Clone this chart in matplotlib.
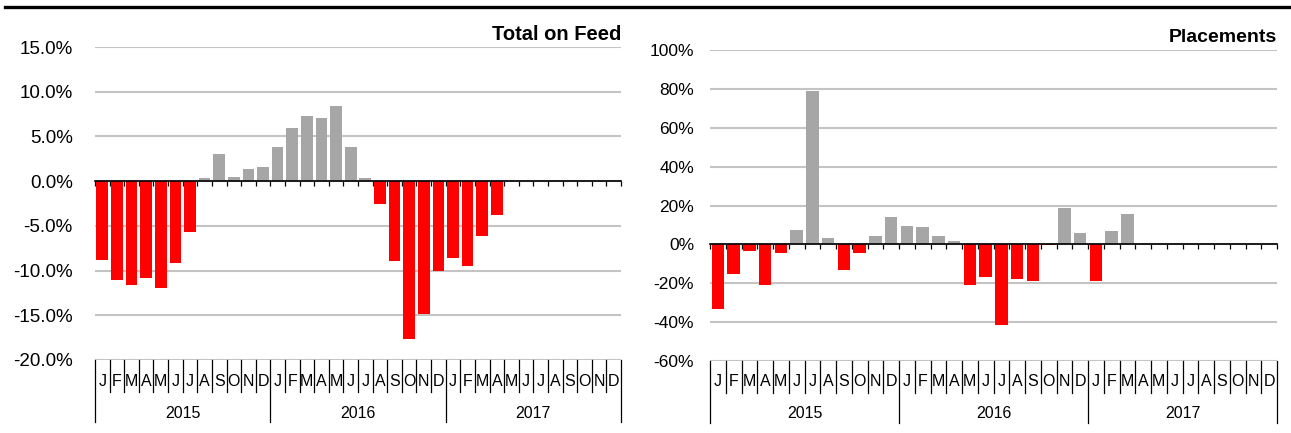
import numpy as np
import matplotlib
matplotlib.use('Agg')
import matplotlib.pyplot as plt
from matplotlib.lines import Line2D
from matplotlib import transforms as mtransforms

plt.rcParams['font.family'] = ['Liberation Sans', 'DejaVu Sans']

# data (year-over-year % change)
months = list('JFMAMJJASOND') * 3
years = ['2015', '2016', '2017']

on_feed = [-8.8, -11.1, -11.6, -10.8, -12.0, -9.1, -5.7, 0.3, 3.0, 0.5, 1.4, 1.6,
           3.8, 5.9, 7.3, 7.1, 8.4, 3.8, 0.3, -2.6, -8.9, -17.7, -14.9, -10.0,
           -8.6, -9.5, -6.1, -3.8]
placements = [-33, -15, -3.5, -21, -4.5, 7.2, 79, 3.5, -13, -4.5, 4.2, 14,
              9.2, 9, 4.5, 1.5, -21, -17, -41.5, -18, -19, -0.5, 18.5, 6,
              -19, 7, 15.5]

W, H = 1291, 433
fig = plt.figure(figsize=(W / 100, H / 100), dpi=100)

# thick rule across the top
fig.add_artist(Line2D([5 / W, 1], [1 - 7 / H] * 2, transform=fig.transFigure,
                      color='black', lw=2.4))


def panel(box, values, ylim, yticks, fmt, title, pad, ysize, tsize):
    x0, y0, x1, y1 = box  # pixel box: left, top, right, bottom
    ax = fig.add_axes([x0 / W, 1 - y1 / H, (x1 - x0) / W, (y1 - y0) / H])
    vals = np.full(36, np.nan)
    vals[:len(values)] = values
    cols = ['#FF0000' if v < 0 else '#A6A6A6' for v in vals]
    ax.bar(np.arange(36) + 0.5, vals, width=0.8, color=cols, zorder=2)

    ax.set_xlim(0, 36)
    ax.set_ylim(*ylim)
    ax.set_yticks(yticks)
    ax.set_yticklabels([fmt.format(t) for t in yticks], fontsize=ysize)
    ax.tick_params(axis='y', length=0, pad=pad)
    ax.yaxis.grid(True, color='#C4C4C4', lw=1.5, zorder=0)
    ax.set_axisbelow(True)

    for s in ['left', 'right', 'top']:
        ax.spines[s].set_visible(False)
    ax.spines['bottom'].set_position(('data', 0))
    ax.spines['bottom'].set_linewidth(1.2)
    ax.spines['bottom'].set_zorder(3)
    ax.set_xticks(np.arange(37))
    ax.tick_params(axis='x', length=3.5, width=0.9, direction='out', labelbottom=False)

    # two-level category axis below the plot
    hpx = y1 - y0
    tr = mtransforms.blended_transform_factory(ax.transData, ax.transAxes)
    for i in range(37):
        drop = 62 if i % 12 == 0 else 32
        ax.add_line(Line2D([i, i], [0, -drop / hpx], transform=tr, color='black',
                           lw=0.9, clip_on=False))
    for i, m in enumerate(months):
        ax.text(i + 0.5, -21 / hpx, m, transform=tr, ha='center', va='center',
                fontsize=11.5)
    for k, yr in enumerate(years):
        ax.text(12 * k + 6, -53 / hpx, yr, transform=tr, ha='center', va='center',
                fontsize=11.5)

    ax.text(1.0, 1 + 13 / hpx, title, transform=ax.transAxes,
            ha='right', va='center', fontsize=tsize, fontweight='bold')
    return ax


panel((95, 47, 621, 360), on_feed, (-20, 15), np.arange(-20, 16, 5), '{:.1f}%',
      'Total on Feed', 16, 13.5, 14.5)
panel((710, 50, 1277, 361), placements, (-60, 100), np.arange(-60, 101, 20), '{:.0f}%',
      'Placements', 11.5, 12.5, 14)

fig.savefig('out.png', dpi=100)
